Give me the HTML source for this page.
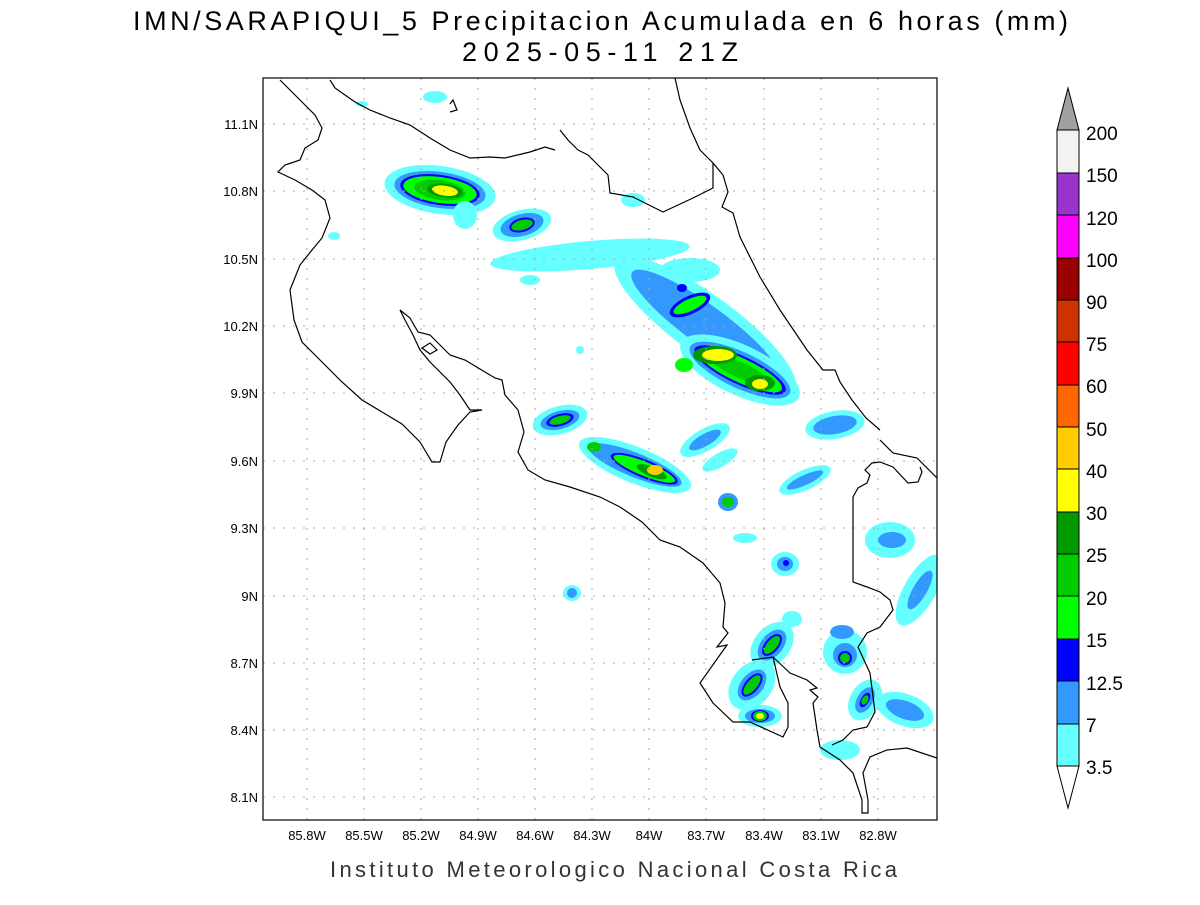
<!DOCTYPE html>
<html><head><meta charset="utf-8"><style>
html,body{margin:0;padding:0;background:#fff;}
svg text{font-family:"Liberation Sans",sans-serif;}
</style></head><body>
<svg width="1200" height="900" viewBox="0 0 1200 900" xmlns="http://www.w3.org/2000/svg">
<rect width="1200" height="900" fill="#fff"/>
<text x="133" y="30" font-size="27" textLength="935" lengthAdjust="spacing" fill="#000">IMN/SARAPIQUI_5 Precipitacion Acumulada en 6 horas (mm)</text>
<text x="462" y="61" font-size="27" textLength="276" lengthAdjust="spacing" fill="#000">2025-05-11 21Z</text>
<text x="330" y="877" font-size="22" textLength="567" lengthAdjust="spacing" fill="#333">Instituto Meteorologico Nacional Costa Rica</text>

<defs><clipPath id="c"><rect x="263" y="78" width="674" height="742"/></clipPath></defs>

<g clip-path="url(#c)">
<g>
<g transform="translate(440,190) rotate(8)">
<ellipse rx="56" ry="24" fill="#66ffff"/><ellipse rx="46" ry="18" fill="#3399ff"/><ellipse rx="40" ry="15" fill="#0000ff"/><ellipse rx="37" ry="13" fill="#00ff00"/><ellipse rx="26" ry="10" fill="#00cc00"/><ellipse cx="5" rx="18" ry="7" fill="#009900"/><ellipse cx="5" rx="13" ry="5" fill="#ffff00"/></g>
<ellipse cx="465" cy="215" rx="12" ry="14" fill="#66ffff"/>
<g transform="translate(522,225) rotate(-15)"><ellipse rx="30" ry="15" fill="#66ffff"/><ellipse rx="22" ry="11" fill="#3399ff"/><ellipse rx="13" ry="7" fill="#0000ff"/><ellipse rx="11" ry="5" fill="#00cc00"/></g>
<g transform="translate(590,255) rotate(-5)"><ellipse rx="100" ry="14" fill="#66ffff"/></g>
<ellipse cx="690" cy="270" rx="30" ry="12" fill="#66ffff"/>
<ellipse cx="530" cy="280" rx="10" ry="5" fill="#66ffff"/>
<ellipse cx="580" cy="350" rx="4" ry="4" fill="#66ffff"/>
<g transform="translate(705,325) rotate(36)">
<ellipse rx="110" ry="30" fill="#66ffff"/><ellipse cx="0" rx="90" ry="20" fill="#3399ff"/></g>
<g transform="translate(690,305) rotate(-25)"><ellipse rx="22" ry="9" fill="#0000ff"/><ellipse rx="18" ry="6" fill="#00ff00"/></g>
<ellipse cx="682" cy="288" rx="5" ry="4" fill="#0000ff"/>
<g transform="translate(740,370) rotate(25)">
<ellipse rx="65" ry="25" fill="#66ffff"/><ellipse rx="55" ry="18" fill="#3399ff"/><ellipse rx="50" ry="14" fill="#0000ff"/><ellipse rx="46" ry="12" fill="#00ff00"/><ellipse rx="35" ry="8" fill="#00cc00"/></g>
<ellipse cx="715" cy="355" rx="22" ry="9" fill="#009900"/><ellipse cx="718" cy="355" rx="16" ry="6" fill="#ffff00"/>
<ellipse cx="760" cy="383" rx="15" ry="8" fill="#009900"/><ellipse cx="760" cy="384" rx="8" ry="5" fill="#ffff00"/>
<ellipse cx="684" cy="365" rx="9" ry="7" fill="#00ff00"/>
<g transform="translate(835,425) rotate(-10)"><ellipse rx="30" ry="14" fill="#66ffff"/><ellipse rx="22" ry="9" fill="#3399ff"/></g>
<g transform="translate(560,420) rotate(-15)"><ellipse rx="28" ry="14" fill="#66ffff"/><ellipse rx="20" ry="9" fill="#3399ff"/><ellipse rx="14" ry="6" fill="#0000ff"/><ellipse rx="11" ry="4" fill="#00cc00"/></g>
<g transform="translate(635,465) rotate(22)"><ellipse rx="60" ry="18" fill="#66ffff"/><ellipse rx="50" ry="12" fill="#3399ff"/><ellipse cx="10" rx="36" ry="9" fill="#0000ff"/><ellipse cx="10" rx="33" ry="7" fill="#00ff00"/><ellipse cx="18" rx="16" ry="5" fill="#009900"/></g>
<ellipse cx="655" cy="470" rx="8" ry="5" fill="#ffcc00"/>
<ellipse cx="594" cy="447" rx="7" ry="5" fill="#00cc00"/>
<ellipse cx="728" cy="502" rx="10" ry="9" fill="#3399ff"/><ellipse cx="728" cy="502" rx="6" ry="5" fill="#00cc00"/>
<ellipse cx="745" cy="538" rx="12" ry="5" fill="#66ffff"/>
<g transform="translate(705,440) rotate(-30)"><ellipse rx="28" ry="11" fill="#66ffff"/><ellipse rx="18" ry="6" fill="#3399ff"/></g>
<g transform="translate(720,460) rotate(-30)"><ellipse rx="20" ry="7" fill="#66ffff"/></g>
<g transform="translate(805,480) rotate(-25)"><ellipse rx="28" ry="10" fill="#66ffff"/><ellipse rx="20" ry="5" fill="#3399ff"/></g>
<ellipse cx="572" cy="593" rx="9" ry="8" fill="#66ffff"/><ellipse cx="572" cy="593" rx="5" ry="5" fill="#3399ff"/>
<ellipse cx="785" cy="564" rx="14" ry="12" fill="#66ffff"/><ellipse cx="785" cy="564" rx="8" ry="7" fill="#3399ff"/><ellipse cx="786" cy="563" rx="3" ry="3" fill="#0000ff"/>
<g transform="translate(772,645) rotate(-50)"><ellipse rx="26" ry="18" fill="#66ffff"/><ellipse rx="18" ry="11" fill="#3399ff"/><ellipse rx="13" ry="7" fill="#0000ff"/><ellipse rx="11" ry="5" fill="#00cc00"/></g>
<g transform="translate(752,685) rotate(-50)"><ellipse rx="28" ry="20" fill="#66ffff"/><ellipse rx="18" ry="11" fill="#3399ff"/><ellipse rx="14" ry="7" fill="#0000ff"/><ellipse rx="12" ry="5" fill="#00cc00"/></g>
<ellipse cx="760" cy="716" rx="22" ry="11" fill="#66ffff"/><ellipse cx="760" cy="716" rx="15" ry="7" fill="#3399ff"/><ellipse cx="760" cy="716" rx="9" ry="6" fill="#0000ff"/><ellipse cx="760" cy="716" rx="7" ry="5" fill="#00cc00"/><ellipse cx="760" cy="716" rx="4" ry="3" fill="#ffff00"/>
<ellipse cx="845" cy="652" rx="22" ry="22" fill="#66ffff"/><ellipse cx="845" cy="655" rx="12" ry="12" fill="#3399ff"/><ellipse cx="845" cy="658" rx="7" ry="7" fill="#0000ff"/><ellipse cx="845" cy="658" rx="5" ry="5" fill="#00cc00"/>
<ellipse cx="842" cy="632" rx="12" ry="7" fill="#3399ff"/>
<g transform="translate(865,700) rotate(-60)"><ellipse rx="22" ry="15" fill="#66ffff"/><ellipse rx="14" ry="8" fill="#3399ff"/><ellipse rx="8" ry="4" fill="#0000ff"/><ellipse rx="5" ry="3" fill="#00cc00"/></g>
<g transform="translate(905,710) rotate(20)"><ellipse rx="30" ry="16" fill="#66ffff"/><ellipse rx="20" ry="9" fill="#3399ff"/></g>
<ellipse cx="840" cy="750" rx="20" ry="10" fill="#66ffff"/>
<ellipse cx="890" cy="540" rx="25" ry="18" fill="#66ffff"/><ellipse cx="892" cy="540" rx="14" ry="8" fill="#3399ff"/>
<g transform="translate(920,590) rotate(-60)"><ellipse rx="40" ry="16" fill="#66ffff"/><ellipse rx="22" ry="7" fill="#3399ff"/></g>
<ellipse cx="435" cy="97" rx="12" ry="6" fill="#66ffff"/><ellipse cx="362" cy="104" rx="6" ry="3" fill="#66ffff"/>
<ellipse cx="633" cy="200" rx="12" ry="7" fill="#66ffff"/>
<ellipse cx="334" cy="236" rx="6" ry="4" fill="#66ffff"/>
<ellipse cx="792" cy="619" rx="10" ry="8" fill="#66ffff"/>
</g>

<g stroke="#aaa" stroke-width="1" stroke-dasharray="2,8">
<line x1="307" y1="78" x2="307" y2="820"/><line x1="364" y1="78" x2="364" y2="820"/><line x1="421" y1="78" x2="421" y2="820"/><line x1="478" y1="78" x2="478" y2="820"/><line x1="535" y1="78" x2="535" y2="820"/><line x1="592" y1="78" x2="592" y2="820"/><line x1="649" y1="78" x2="649" y2="820"/><line x1="706" y1="78" x2="706" y2="820"/><line x1="764" y1="78" x2="764" y2="820"/><line x1="821" y1="78" x2="821" y2="820"/><line x1="878" y1="78" x2="878" y2="820"/>
<line x1="263" y1="124" x2="937" y2="124"/><line x1="263" y1="191" x2="937" y2="191"/><line x1="263" y1="259" x2="937" y2="259"/><line x1="263" y1="326" x2="937" y2="326"/><line x1="263" y1="393" x2="937" y2="393"/><line x1="263" y1="461" x2="937" y2="461"/><line x1="263" y1="528" x2="937" y2="528"/><line x1="263" y1="596" x2="937" y2="596"/><line x1="263" y1="663" x2="937" y2="663"/><line x1="263" y1="730" x2="937" y2="730"/><line x1="263" y1="797" x2="937" y2="797"/>
</g>

<g fill="none" stroke="#000" stroke-width="1.2">
<polyline points="280,80 300,100 315,115 322,128 318,140 305,148 300,160 285,165 278,172 295,180 312,190 325,200 330,218 322,238 312,250 300,265 290,290 294,320 302,342 322,362 342,382 362,400 382,412 402,424 420,442 432,462 440,462 446,442 458,425 470,412 482,410 470,410 460,395 450,382 440,372 430,362 420,350 413,335 405,320 400,310 410,318 418,332 430,335 440,345 450,355 465,360 485,372 495,378 502,380 505,395 518,410 524,432 518,452 528,470 545,480 570,487 600,497 620,507 642,522 660,540 680,547 703,563 720,583 725,603 723,627 728,633 717,647 727,645 700,683 713,703 733,722 750,722 783,737 788,727 788,703 780,687 773,657 752,660"/>
<polyline points="773,657 790,673 807,680 817,688 810,690 818,697 813,703 817,730 820,747 840,760 853,773 862,800 862,813 868,813 868,800 863,773 870,757 887,750 907,748 937,758"/>
<polyline points="832,745 843,740 853,730 867,727 875,712 870,673 858,647 867,633 880,627 893,610 890,600 880,592 867,587 853,582 853,497 858,488 867,483 870,475 865,470 872,463 880,462 893,467 908,483 918,482 922,472 920,467"/>
<polyline points="880,440 893,453 917,458 937,478"/>
<polyline points="675,78 680,100 690,128 700,150 713,163 713,188 693,198 663,212 633,197 610,193 608,175 598,165 588,155 578,150"/>
<polyline points="713,163 723,175 728,192 722,207 733,213 740,237 760,277 780,310 807,350 823,370 835,370 840,382 852,400 866,418 880,430"/>
<polyline points="555,150 545,147 530,152 505,158 490,157 470,158 450,150 430,138 410,125 390,118 370,110 355,102 345,95 335,88 330,80"/>
<polyline points="578,150 568,140 560,130"/>
<polygon points="422,348 430,343 437,350 430,354"/>
<polyline points="450,104 453,100 457,110 450,112"/>
</g>
</g>
<rect x="263" y="78" width="674" height="742" fill="none" stroke="#000" stroke-width="1.2"/>

<g font-size="13" fill="#000" text-anchor="end">
<text x="258" y="129">11.1N</text><text x="258" y="196">10.8N</text><text x="258" y="264">10.5N</text><text x="258" y="331">10.2N</text><text x="258" y="398">9.9N</text><text x="258" y="466">9.6N</text><text x="258" y="533">9.3N</text><text x="258" y="601">9N</text><text x="258" y="668">8.7N</text><text x="258" y="735">8.4N</text><text x="258" y="802">8.1N</text>
</g>
<g font-size="13" fill="#000" text-anchor="middle">
<text x="307" y="840">85.8W</text><text x="364" y="840">85.5W</text><text x="421" y="840">85.2W</text><text x="478" y="840">84.9W</text><text x="535" y="840">84.6W</text><text x="592" y="840">84.3W</text><text x="649" y="840">84W</text><text x="706" y="840">83.7W</text><text x="764" y="840">83.4W</text><text x="821" y="840">83.1W</text><text x="878" y="840">82.8W</text>
</g>

<g stroke="#000" stroke-width="1">
<polygon points="1057,130 1079,130 1068,88" fill="#a0a0a0"/>
<rect x="1057" y="130" width="22" height="43" fill="#f2f2f2"/>
<rect x="1057" y="173" width="22" height="42" fill="#9933cc"/>
<rect x="1057" y="215" width="22" height="43" fill="#ff00ff"/>
<rect x="1057" y="258" width="22" height="42" fill="#990000"/>
<rect x="1057" y="300" width="22" height="42" fill="#cc3300"/>
<rect x="1057" y="342" width="22" height="43" fill="#ff0000"/>
<rect x="1057" y="385" width="22" height="42" fill="#ff6600"/>
<rect x="1057" y="427" width="22" height="42" fill="#ffcc00"/>
<rect x="1057" y="469" width="22" height="43" fill="#ffff00"/>
<rect x="1057" y="512" width="22" height="42" fill="#009900"/>
<rect x="1057" y="554" width="22" height="42" fill="#00cc00"/>
<rect x="1057" y="596" width="22" height="43" fill="#00ff00"/>
<rect x="1057" y="639" width="22" height="42" fill="#0000ff"/>
<rect x="1057" y="681" width="22" height="43" fill="#3399ff"/>
<rect x="1057" y="724" width="22" height="42" fill="#66ffff"/>
<polygon points="1057,766 1079,766 1068,808" fill="#fff"/>
</g>
<g font-size="19" fill="#000">
<text x="1086" y="140">200</text><text x="1086" y="182">150</text><text x="1086" y="225">120</text><text x="1086" y="267">100</text><text x="1086" y="309">90</text><text x="1086" y="351">75</text><text x="1086" y="393">60</text><text x="1086" y="436">50</text><text x="1086" y="478">40</text><text x="1086" y="520">30</text><text x="1086" y="562">25</text><text x="1086" y="605">20</text><text x="1086" y="647">15</text><text x="1086" y="690">12.5</text><text x="1086" y="732">7</text><text x="1086" y="774">3.5</text>
</g>
</svg>
</body></html>
